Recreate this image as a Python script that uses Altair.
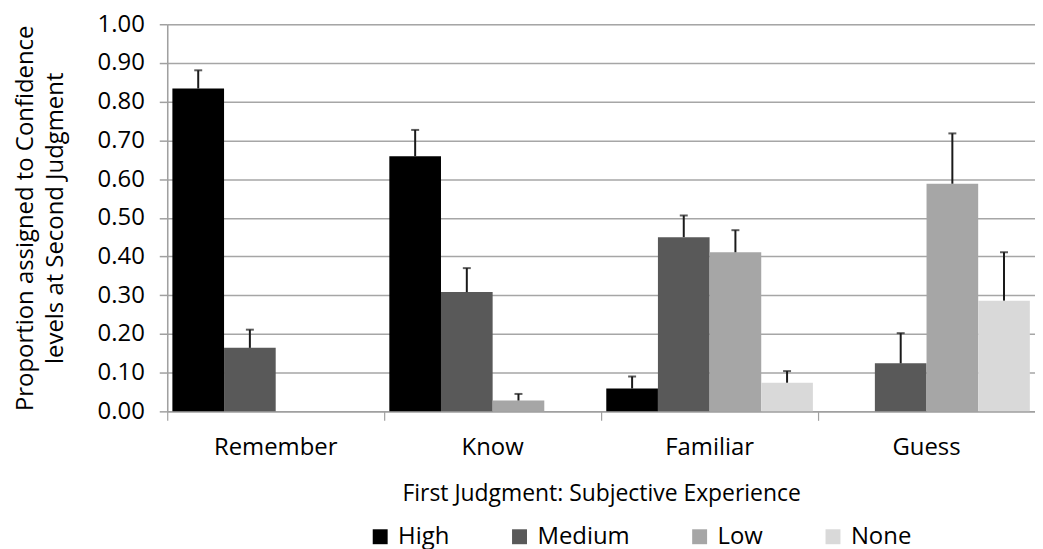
import altair as alt
import pandas as pd

categories = ["Remember", "Know", "Familiar", "Guess"]
series = ["High", "Medium", "Low", "None"]
colors = ["#000000", "#595959", "#a6a6a6", "#d9d9d9"]
y_ticks = [0.0, 0.1, 0.2, 0.3, 0.4, 0.5, 0.6, 0.7, 0.8, 0.9, 1.0]

high = [0.834, 0.659, 0.059, 0.0]
medium = [0.164, 0.308, 0.450, 0.124]
low = [0.0, 0.028, 0.411, 0.588]
none = [0.0, 0.0, 0.074, 0.286]

high_err = [0.047, 0.068, 0.031, None]
medium_err = [0.047, 0.062, 0.056, 0.078]
low_err = [None, 0.017, 0.057, 0.130]
none_err = [None, None, 0.030, 0.125]

rows = []
for s, vals, errs in zip(series, [high, medium, low, none], [high_err, medium_err, low_err, none_err]):
    for c, v, e in zip(categories, vals, errs):
        rows.append({"cat": c, "level": s, "value": v,
                     "upper": (v + e) if e is not None else None})
df = pd.DataFrame(rows)

FONT = "Open Sans"
FS = 24

x_axis = alt.Axis(bandPosition=0, labelAngle=0,
                  tickSize=9, tickColor="#a0a0a0", domainColor="#a0a0a0",
                  tickWidth=1.2, domainWidth=1.5,
                  labelFontSize=FS, labelPadding=15, titleFontSize=23,
                  titlePadding=24, titleFontWeight="normal", labelColor="#000",
                  titleColor="#000", grid=False)
x = alt.X("cat:N", sort=categories, title="First Judgment: Subjective Experience",
          scale=alt.Scale(paddingInner=0, paddingOuter=0), axis=x_axis)
xo = alt.XOffset("level:N", sort=series, scale=alt.Scale(paddingOuter=0.1, paddingInner=0))

y_axis = alt.Axis(values=y_ticks, format=".2f", labelOverlap=False,
                  gridColor="#a6a6a6", gridWidth=1.5, tickColor="#a0a0a0",
                  domainColor="#a0a0a0", domainWidth=1.5, tickWidth=1.5,
                  tickSize=8, labelFontSize=FS,
                  labelPadding=15, titleFontSize=FS, titleFontWeight="normal",
                  titleLineHeight=30, titlePadding=30,
                  labelColor="#000", titleColor="#000")
y_title = ["Proportion assigned to Confidence", "levels at Second Judgment"]
y = alt.Y("value:Q", scale=alt.Scale(domain=[0, 1]), title=y_title, axis=y_axis)

bars = alt.Chart(df).mark_bar().encode(
    x=x,
    xOffset=xo,
    y=y,
    color=alt.Color("level:N", sort=series,
                    scale=alt.Scale(domain=series, range=colors),
                    legend=alt.Legend(title=None, orient="none", direction="horizontal",
                                      legendX=202, legendY=503,
                                      symbolType="square", symbolSize=225,
                                      symbolStrokeWidth=0, columnPadding=58,
                                      labelFontSize=FS, labelColor="#000",
                                      labelOffset=6)),
)

err_base = alt.Chart(df).transform_filter("isValid(datum.upper)")
err_line = err_base.mark_rule(color="#1a1a1a", strokeWidth=2).encode(
    x=x,
    xOffset=xo,
    y=y,
    y2="upper:Q",
)
err_cap = err_base.mark_tick(color="#1a1a1a", thickness=2, size=8).encode(
    x=x,
    xOffset=xo,
    y=alt.Y("upper:Q", scale=alt.Scale(domain=[0, 1]), title=y_title, axis=y_axis),
)

chart = alt.layer(bars, err_line, err_cap).properties(
    width=872, height=389, padding={"left": 5, "top": 3, "right": 0, "bottom": 0}
).configure_view(strokeWidth=0, stroke="transparent").configure(font=FONT)

chart.save("out.html", embed_options={"renderer": "svg", "actions": False})
